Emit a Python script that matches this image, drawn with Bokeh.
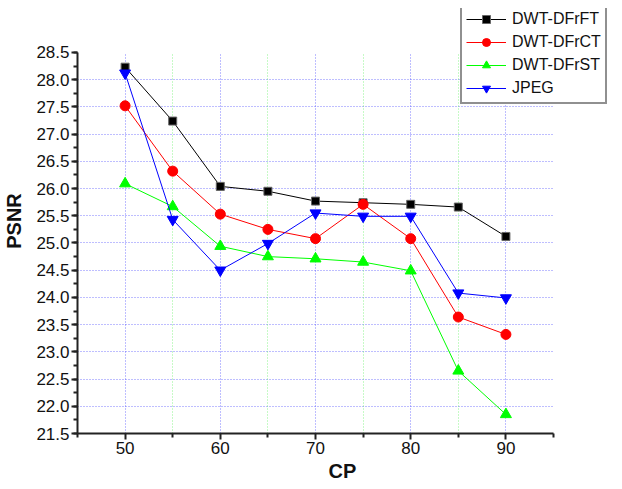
from bokeh.plotting import figure
from bokeh.models import FixedTicker, PrintfTickFormatter, Grid, Range1d, Legend
from bokeh.embed import file_html
from bokeh.resources import INLINE

cp = [50, 55, 60, 65, 70, 75, 80, 85, 90]
dwt_dfrft = [28.23, 27.24, 26.04, 25.95, 25.77, 25.74, 25.71, 25.66, 25.12]
dwt_dfrct = [27.52, 26.32, 25.53, 25.25, 25.08, 25.71, 25.08, 23.64, 23.32]
dwt_dfrst = [26.09, 25.67, 24.94, 24.75, 24.71, 24.65, 24.49, 22.65, 21.85]
jpeg = [28.12, 25.43, 24.50, 24.99, 25.55, 25.49, 25.49, 24.08, 23.99]

x_major = [50, 60, 70, 80, 90]
x_minor = [45, 55, 65, 75, 85, 95]
x_green = [55, 65, 75, 85]
y_major = [21.5 + 0.5 * i for i in range(15)]
y_minor = [21.5 + 0.25 * i for i in range(29)]
y_grid = [22.0 + 0.5 * i for i in range(13)]

FONT = "Liberation Sans"
X0, X1 = 45, 95
Y0, Y1 = 21.5, 28.5

# frame extends up/right to leave room for the legend; axes are bounded
p = figure(frame_width=530, frame_height=425, output_backend="svg", toolbar_location=None,
           x_range=Range1d(X0, 100.67), y_range=Range1d(Y0, 29.308),
           min_border_left=76, min_border_right=0, min_border_top=8, min_border_bottom=52)
p.outline_line_color = None
p.background_fill_color = "white"
p.border_fill_color = "white"

# axes
p.xaxis.ticker = FixedTicker(ticks=x_major, minor_ticks=x_minor)
p.yaxis.ticker = FixedTicker(ticks=y_major, minor_ticks=y_minor)
p.yaxis.formatter = PrintfTickFormatter(format="%.1f")
p.xaxis.bounds = (X0, X1)
p.yaxis.bounds = (Y0, Y1)
for ax in (p.xaxis[0], p.yaxis[0]):
    ax.axis_line_color = "#222222"
    ax.axis_line_width = 2
    ax.major_tick_line_color = "#222222"
    ax.minor_tick_line_color = "#222222"
    ax.major_tick_line_width = 2
    ax.minor_tick_line_width = 2
    ax.major_tick_in = 0
    ax.minor_tick_in = 0
    ax.major_tick_out = 6
    ax.minor_tick_out = 4
    ax.major_label_text_font = FONT
    ax.major_label_text_font_size = "17px"
    ax.major_label_text_color = "#111111"
    ax.axis_label_text_font = FONT
    ax.axis_label_text_font_size = "20px"
    ax.axis_label_text_font_style = "bold"
    ax.axis_label_text_color = "#111111"
p.xaxis.axis_label = "CP"
p.yaxis.axis_label = "PSNR"
p.xaxis.major_label_standoff = 2
p.xaxis.axis_label_standoff = 3
p.yaxis.major_label_standoff = 2
p.yaxis.axis_label_standoff = 8

# grids
p.xgrid.ticker = FixedTicker(ticks=x_major)
p.ygrid.ticker = FixedTicker(ticks=y_grid)
p.xgrid.cross_bounds = (Y0, Y1)
p.ygrid.cross_bounds = (X0, X1)
for g in (p.xgrid[0], p.ygrid[0]):
    g.grid_line_color = "#4444ff"
    g.grid_line_alpha = 0.7
    g.grid_line_dash = "1 2"
    g.grid_line_width = 1
g2 = Grid(dimension=0, ticker=FixedTicker(ticks=x_green), cross_bounds=(Y0, Y1),
          grid_line_color="#44ee44", grid_line_alpha=0.6, grid_line_dash="1 2", grid_line_width=1)
p.add_layout(g2)

series = [
    ("DWT-DFrFT", dwt_dfrft, "black", "square", 8, "#666666"),
    ("DWT-DFrCT", dwt_dfrct, "#ff0000", "circle", 10, "#ff0000"),
    ("DWT-DFrST", dwt_dfrst, "#00ff00", "triangle", 11, "#00ff00"),
    ("JPEG", jpeg, "#0000ff", "inverted_triangle", 11, "#0000ff"),
]
items = []
for name, ys, col, mk, sz, lc in series:
    l = p.line(cp, ys, line_color=col, line_width=1)
    s = p.scatter(cp, ys, marker=mk, size=sz, fill_color=col, line_color=lc, line_width=1)
    items.append((name, [l, s]))

leg = Legend(items=items, location=(383, 329))
leg.margin = 0
leg.label_text_font = FONT
leg.label_text_font_size = "16px"
leg.label_text_color = "#111111"
leg.glyph_width = 40
leg.glyph_height = 20
leg.label_height = 20
leg.label_standoff = 6
leg.spacing = 3
leg.padding = 4
leg.border_line_color = "#222222"
leg.border_line_width = 2
leg.background_fill_color = "white"
leg.background_fill_alpha = 1
p.add_layout(leg, "center")

open("out.html", "w").write(file_html(p, INLINE))
